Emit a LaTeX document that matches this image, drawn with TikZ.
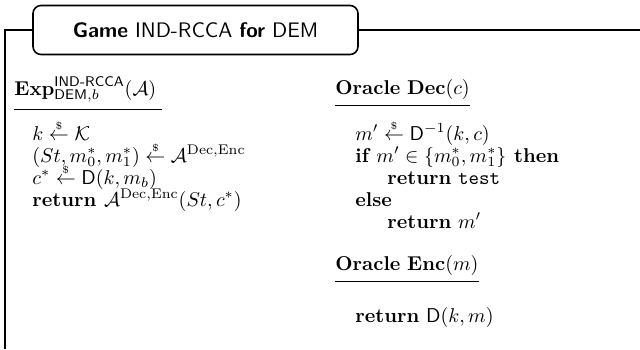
\documentclass[tikz,border=0pt]{standalone}
\usepackage{amsmath}

\newcommand{\samp}{\mathrel{\smash[t]{\overset{\raisebox{-1.1ex}{$\scriptscriptstyle\$$}}{\leftarrow}}}}

\tikzset{
  titlebox/.style={draw,line width=.8pt,rounded corners=4pt,fill=white,
    minimum width=162.5pt,minimum height=24.5pt,font=\sffamily\fontsize{10.5}{12}\selectfont},
  headline/.style={anchor=base west,inner xsep=0pt,inner ysep=3pt},
  codeline/.style={anchor=base west,inner sep=0pt},
}

\begin{document}
\begin{tikzpicture}[x=.5pt,y=-.5pt]
\useasboundingbox (0,0) rectangle (640,349);

\node[titlebox] (title) at (195.5,30) {\textbf{Game} IND-RCCA \textbf{for} DEM};
\draw[line width=.6pt] (title.west) -- (5,30) -- (5,349);
\draw[line width=.6pt] (title.east) -- (640,30);

% experiment
\node[headline] (exp) at (14,95)
  {$\mathbf{Exp}^{\mathsf{IND\text{-}RCCA}}_{\mathsf{DEM},b}(\mathcal{A})\;$};
\draw (exp.south west) -- (exp.south east);

\node[codeline] (e1) at (32,140) {$k \samp \mathcal{K}$};
\node[codeline] (e2) at (32,162) {$(St,m_0^*,m_1^*) \samp \mathcal{A}^{\mathrm{Dec},\mathrm{Enc}}$};
\node[codeline] (e3) at (32,184) {$c^* \samp \mathsf{D}(k,m_b)$};
\node[codeline] (e4) at (32,206) {$\textbf{return } \mathcal{A}^{\mathrm{Dec},\mathrm{Enc}}(St,c^*)$};

% decryption oracle
\node[headline] (dec) at (335,94) {\textbf{Oracle} $\mathbf{Dec}(c)$};
\draw (dec.south west) -- (dec.south east);

\node[codeline] (d1) at (355,140) {$m' \samp \mathsf{D}^{-1}(k,c)$};
\node[codeline] (d2) at (355,162) {$\textbf{if } m' \in \{m_0^*,m_1^*\} \textbf{ then}$};
\node[codeline] (d3) at (387,184) {\textbf{return} \texttt{test}};
\node[codeline] (d4) at (355,206) {\textbf{else}};
\node[codeline] (d5) at (387,228) {\textbf{return} $m'$};

% encryption oracle
\node[headline] (enc) at (335,270) {\textbf{Oracle} $\mathbf{Enc}(m)$};
\draw (enc.south west) -- (enc.south east);

\node[codeline] (n1) at (355,322) {\textbf{return} $\mathsf{D}(k,m)$};

\end{tikzpicture}
\end{document}
